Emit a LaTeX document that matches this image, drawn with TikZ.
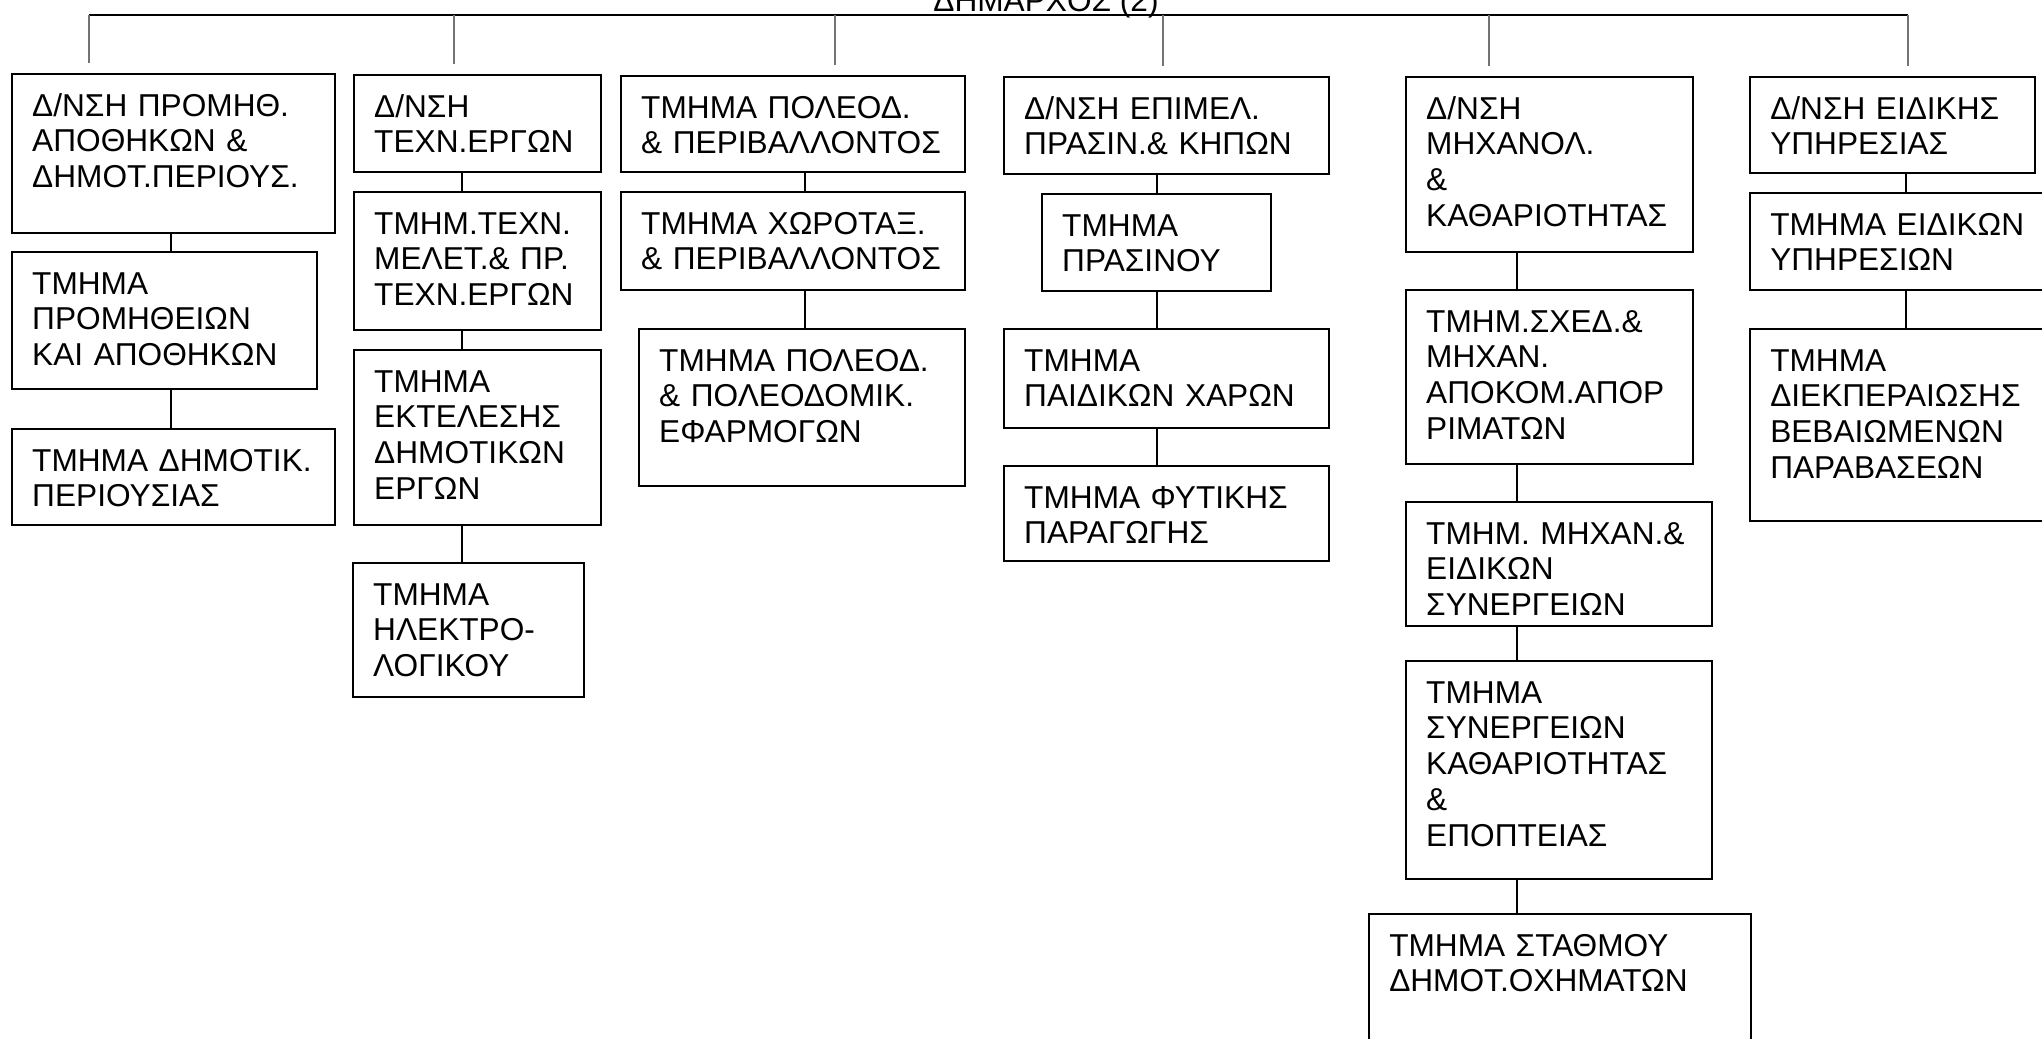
\documentclass[tikz,border=0pt]{standalone}
\usepackage{fontspec}
\setmainfont{Liberation Sans}

\newcommand{\orgfont}{\fontsize{9}{10.2}\selectfont}

\begin{document}
\begin{tikzpicture}[x=0.1mm, y=-0.1mm,
    unit/.style={rectangle, draw, line width=0.7pt, anchor=north west,
                 align=left, inner xsep=2mm, inner ysep=1.9mm,
                 text height=6.5pt, font=\orgfont},
    link/.style={line width=0.5pt},
    drop/.style={line width=0.4pt, color=black!55, shorten >=1mm},
]
\clip (0,0) rectangle (2042,1038);

\node[font=\orgfont, anchor=base] (mayor) at (1046,11) {ΔΗΜΑΡΧΟΣ (2)};

% column 1
\node[unit, text width=28.3mm, text depth=9.8mm] (A1) at (11,73) {Δ/ΝΣΗ~ΠΡΟΜΗΘ.\\ΑΠΟΘΗΚΩΝ~\&\\ΔΗΜΟΤ.ΠΕΡΙΟΥΣ.};
\node[unit, text width=26.5mm, text depth=7.6mm] (A2) at (11,251) {ΤΜΗΜΑ\\ΠΡΟΜΗΘΕΙΩΝ\\ΚΑΙ~ΑΠΟΘΗΚΩΝ};
\node[unit, text width=28.3mm, text depth=3.5mm] (A3) at (11,428) {ΤΜΗΜΑ~ΔΗΜΟΤΙΚ.\\ΠΕΡΙΟΥΣΙΑΣ};

% column 2
\node[unit, text width=20.7mm, text depth=3.6mm] (B1) at (353,74) {Δ/ΝΣΗ\\ΤΕΧΝ.ΕΡΓΩΝ};
\node[unit, text width=20.7mm, text depth=7.7mm] (B2) at (353,191) {ΤΜΗΜ.ΤΕΧΝ.\\ΜΕΛΕΤ.\&~ΠΡ.\\ΤΕΧΝ.ΕΡΓΩΝ};
\node[unit, text width=20.7mm, text depth=11.4mm] (B3) at (353,349) {ΤΜΗΜΑ\\ΕΚΤΕΛΕΣΗΣ\\ΔΗΜΟΤΙΚΩΝ\\ΕΡΓΩΝ};
\node[unit, text width=19.1mm, text depth=7.3mm] (B4) at (352,562) {ΤΜΗΜΑ\\ΗΛΕΚΤΡΟ-\\ΛΟΓΙΚΟΥ};

% column 3
\node[unit, text width=30.4mm, text depth=3.5mm] (C1) at (620,75) {ΤΜΗΜΑ~ΠΟΛΕΟΔ.\\\&~ΠΕΡΙΒΑΛΛΟΝΤΟΣ};
\node[unit, text width=30.4mm, text depth=3.7mm] (C2) at (620,191) {ΤΜΗΜΑ~ΧΩΡΟΤΑΞ.\\\&~ΠΕΡΙΒΑΛΛΟΝΤΟΣ};
\node[unit, text width=28.6mm, text depth=9.6mm] (C3) at (638,328) {ΤΜΗΜΑ~ΠΟΛΕΟΔ.\\\&~ΠΟΛΕΟΔΟΜΙΚ.\\ΕΦΑΡΜΟΓΩΝ};

% column 4
\node[unit, text width=28.5mm, text depth=3.6mm] (D1) at (1003,76) {Δ/ΝΣΗ~ΕΠΙΜΕΛ.\\ΠΡΑΣΙΝ.\&~ΚΗΠΩΝ};
\node[unit, text width=18.9mm, text depth=3.6mm] (D2) at (1041,193) {ΤΜΗΜΑ\\ΠΡΑΣΙΝΟΥ};
\node[unit, text width=28.5mm, text depth=3.8mm] (D3) at (1003,328) {ΤΜΗΜΑ\\ΠΑΙΔΙΚΩΝ~ΧΑΡΩΝ};
\node[unit, text width=28.5mm, text depth=3.4mm] (D4) at (1003,465) {ΤΜΗΜΑ~ΦΥΤΙΚΗΣ\\ΠΑΡΑΓΩΓΗΣ};

% column 5
\node[unit, text width=24.7mm, text depth=11.4mm] (E1) at (1405,76) {Δ/ΝΣΗ\\ΜΗΧΑΝΟΛ.\\\&\\ΚΑΘΑΡΙΟΤΗΤΑΣ};
\node[unit, text width=24.7mm, text depth=11.3mm] (E2) at (1405,289) {ΤΜΗΜ.ΣΧΕΔ.\&\\ΜΗΧΑΝ.\\ΑΠΟΚΟΜ.ΑΠΟΡ\\ΡΙΜΑΤΩΝ};
\node[unit, text width=26.6mm, text depth=6.3mm] (E3) at (1405,501) {ΤΜΗΜ.~ΜΗΧΑΝ.\&\\ΕΙΔΙΚΩΝ\\ΣΥΝΕΡΓΕΙΩΝ};
\node[unit, text width=26.6mm, text depth=15.7mm] (E4) at (1405,660) {ΤΜΗΜΑ\\ΣΥΝΕΡΓΕΙΩΝ\\ΚΑΘΑΡΙΟΤΗΤΑΣ\\\&\\ΕΠΟΠΤΕΙΑΣ};
\node[unit, text width=34.2mm, text depth=7.6mm] (E5) at (1368,913) {ΤΜΗΜΑ~ΣΤΑΘΜΟΥ\\ΔΗΜΟΤ.ΟΧΗΜΑΤΩΝ};

% column 6
\node[unit, text width=24.5mm, text depth=3.5mm] (F1) at (1749,76) {Δ/ΝΣΗ~ΕΙΔΙΚΗΣ\\ΥΠΗΡΕΣΙΑΣ};
\node[unit, text width=25.5mm, text depth=3.6mm] (F2) at (1749,192) {ΤΜΗΜΑ~ΕΙΔΙΚΩΝ\\ΥΠΗΡΕΣΙΩΝ};
\node[unit, text width=25.5mm, text depth=13.1mm] (F3) at (1749,328) {ΤΜΗΜΑ\\ΔΙΕΚΠΕΡΑΙΩΣΗΣ\\ΒΕΒΑΙΩΜΕΝΩΝ\\ΠΑΡΑΒΑΣΕΩΝ};

% top bar and drops
\foreach \c/\x in {A/89, B/454, C/835, D/1163, E/1489, F/1908}
  \coordinate (d\c) at (\x,15);
\draw[link] (dA) -- (dF);
\foreach \c in {A,B,C,D,E,F}
  \draw[drop] (d\c) -- (d\c |- \c1.north);

% links inside the columns
\foreach \c/\x in {A/171, B/462, C/805, D/1157, E/1517, F/1906}
  \coordinate (x\c) at (\x,0);
\draw[link] (A1.south -| xA) -- (A2.north -| xA);
\draw[link] (A2.south -| xA) -- (A3.north -| xA);
\draw[link] (B1.south -| xB) -- (B2.north -| xB);
\draw[link] (B2.south -| xB) -- (B3.north -| xB);
\draw[link] (B3.south -| xB) -- (B4.north -| xB);
\draw[link] (C1.south -| xC) -- (C2.north -| xC);
\draw[link] (C2.south -| xC) -- (C3.north -| xC);
\draw[link] (D1.south -| xD) -- (D2.north -| xD);
\draw[link] (D2.south -| xD) -- (D3.north -| xD);
\draw[link] (D3.south -| xD) -- (D4.north -| xD);
\draw[link] (E1.south -| xE) -- (E2.north -| xE);
\draw[link] (E2.south -| xE) -- (E3.north -| xE);
\draw[link] (E3.south -| xE) -- (E4.north -| xE);
\draw[link] (E4.south -| xE) -- (E5.north -| xE);
\draw[link] (F1.south -| xF) -- (F2.north -| xF);
\draw[link] (F2.south -| xF) -- (F3.north -| xF);
\end{tikzpicture}
\end{document}
